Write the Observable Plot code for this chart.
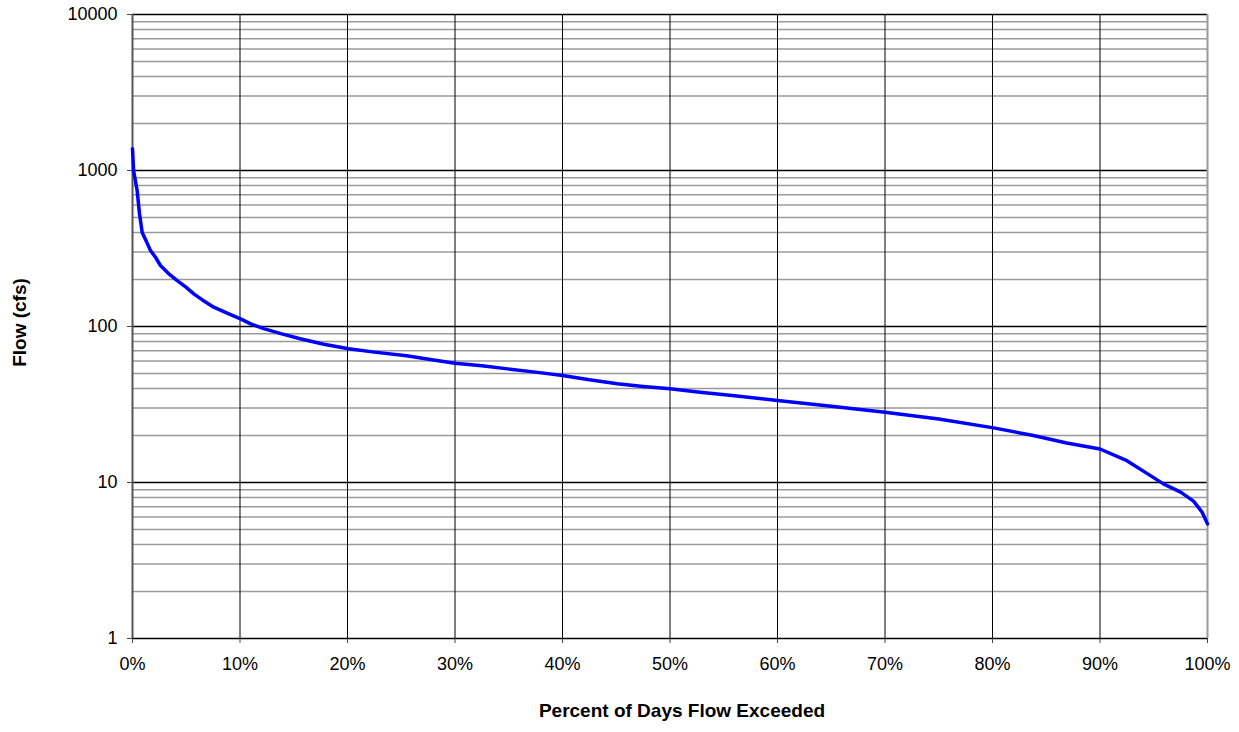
<!DOCTYPE html>
<html>
<head>
<meta charset="utf-8">
<script src="https://cdn.jsdelivr.net/npm/d3@7"></script>
<script src="https://cdn.jsdelivr.net/npm/@observablehq/plot@0.6"></script>
<style>
  html, body { margin: 0; padding: 0; background: #fff; }
  #chart svg { display: block; }
</style>
</head>
<body>
<div id="chart"></div>
<script>
// Flow-duration curve: percent of days a flow is exceeded vs. flow (cfs)
const percentExceeded = [0, 0.1, 0.43, 0.65, 0.9, 1.3, 1.67, 2.14, 2.6, 3.3, 4.16, 5, 5.7, 6.5, 7.56, 8.8, 10.05, 11, 12.2, 13.8, 15.6, 17.8, 20.1, 22.5, 25.5, 28, 30, 32.5, 34.9, 37.5, 40, 42.5, 45.1, 47.5, 50, 52.8, 56, 60, 65, 70, 75, 80.1, 83.8, 86.9, 90, 92.5, 94.4, 95.9, 97.5, 98.7, 99.5, 100];
const flowCfs = [1380, 1000, 745, 528, 400, 350, 307, 278, 246, 220, 197, 178, 162, 148, 133, 122, 112, 104, 97, 90, 83.4, 77, 72, 68.5, 65, 61, 58.2, 56, 53.5, 51, 48.5, 45.5, 43, 41.3, 39.9, 37.9, 36, 33.5, 30.8, 28.2, 25.5, 22.4, 20, 17.9, 16.4, 13.8, 11.4, 9.8, 8.67, 7.59, 6.45, 5.43];

const xTicks = [0, 10, 20, 30, 40, 50, 60, 70, 80, 90, 100];
const yMajorTicks = [1, 10, 100, 1000, 10000];
const yMinorTicks = [1, 10, 100, 1000].flatMap(d => [2, 3, 4, 5, 6, 7, 8, 9].map(k => d * k));

const data = percentExceeded.map((p, i) => ({p, flow: flowCfs[i]}));

const chart = Plot.plot({
  width: 1239,
  height: 732,
  marginLeft: 132,
  marginRight: 32,
  marginTop: 14,
  marginBottom: 94,
  style: {fontFamily: "Arial, 'Liberation Sans', sans-serif", background: "#fff"},
  x: {domain: [0, 100]},
  y: {type: "log", domain: [1, 10000]},
  marks: [
    Plot.ruleY(yMinorTicks, {stroke: "#9a9a9a", strokeWidth: 1.5}),
    Plot.ruleX(xTicks, {stroke: "#000", strokeWidth: 1}),
    Plot.ruleY(yMajorTicks, {stroke: "#000", strokeWidth: 1.5}),
    Plot.ruleX([0], {stroke: "#555", strokeWidth: 2}),
    Plot.ruleX([100], {stroke: "#9a9a9a", strokeWidth: 2}),
    Plot.line(data, {x: "p", y: "flow", stroke: "#0000ff", strokeWidth: 3.5, curve: "linear"}),
    Plot.axisY({ticks: yMajorTicks, tickFormat: d => String(d), tickSize: 5, tickPadding: 10, fontSize: 18, label: null, stroke: "#444"}),
    Plot.axisX({ticks: xTicks, tickFormat: d => d + "%", tickSize: 5, tickPadding: 14, fontSize: 18, label: null, stroke: "#444"}),
    Plot.text(["Percent of Days Flow Exceeded"], {frameAnchor: "bottom", dx: 12, dy: 78, fontWeight: "bold", fontSize: 19, fill: "#000"}),
    Plot.text(["Flow (cfs)"], {frameAnchor: "left", textAnchor: "middle", dx: -113, dy: -4, rotate: -90, fontWeight: "bold", fontSize: 19, fill: "#000"})
  ]
});

document.getElementById("chart").append(chart);
</script>
</body>
</html>
